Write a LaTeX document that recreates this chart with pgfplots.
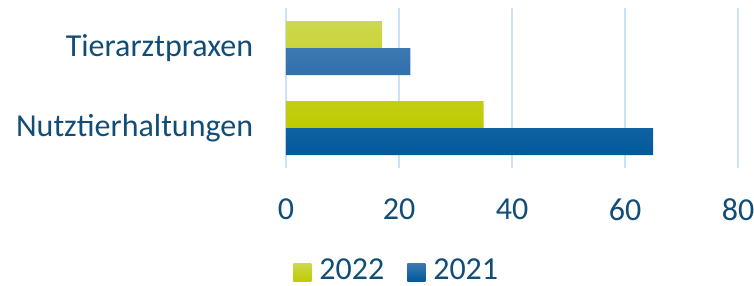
\documentclass[border=0pt]{standalone}
\usepackage{pgfplots}
\pgfplotsset{compat=1.18}
\usepackage{fontspec}
\setmainfont{Carlito}
\definecolor{txt}{HTML}{124D77}
\definecolor{gtop}{HTML}{CDD84E}
\definecolor{gbot}{HTML}{BFCB00}
\definecolor{btop}{HTML}{3F78B3}
\definecolor{bbot}{HTML}{005A9C}
\definecolor{gridc}{HTML}{C8E4F7}
\begin{document}
\begin{tikzpicture}
\fontsize{32}{38}\selectfont
\begin{axis}[
  at={(0,0)}, anchor=south west,
  scale only axis, width=452pt, height=160pt,
  xmin=0, xmax=80, ymin=-0.5, ymax=1.5,
  xtick={0,20,40,60,80}, ytick={0,1},
  yticklabels={Nutztierhaltungen,Tierarztpraxen},
  axis line style={draw=none},
  major tick length=0pt,
  xmajorgrids, grid style={gridc, line width=2pt},
  ticklabel style={font=\fontsize{32}{38}\selectfont, text=txt},
  /pgf/number format/assume math mode=true,
  xticklabel style={yshift=-20pt},
  yticklabel style={xshift=-22pt},
  xbar, bar width=27pt,
  legend style={at={(axis description cs:0.244,-0.65)}, anchor=center,
    draw=none, fill=none, font=\fontsize{32}{38}\selectfont, text=txt,
    legend columns=2,
    nodes={inner sep=1pt},
    /tikz/every odd column/.style={column sep=7pt},
    /tikz/every even column/.style={column sep=22pt}},
  legend image code/.code={\path[#1,draw=none] (0pt,-9pt) rectangle (18pt,9pt);},
]
\addplot[draw=none, top color=gtop, bottom color=gbot, bar shift=13.5pt]
  coordinates {(35,0) (17,1)};
\addplot[draw=none, top color=btop, bottom color=bbot, bar shift=-13.5pt]
  coordinates {(65,0) (22,1)};
\legend{2022,2021}
\end{axis}
\pgfresetboundingbox
\path[use as bounding box] (-286pt,-117pt) rectangle (468pt,168pt);
\end{tikzpicture}
\end{document}
